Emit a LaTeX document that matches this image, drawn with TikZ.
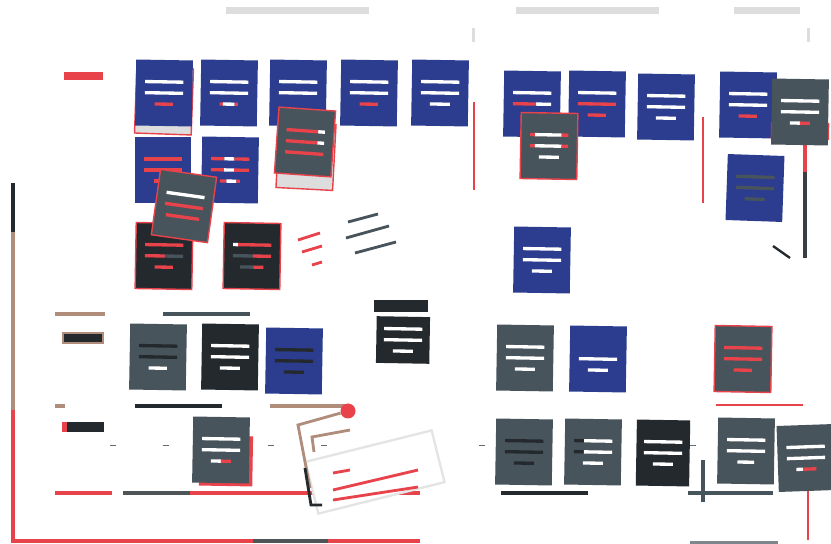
\documentclass[tikz,border=0pt]{standalone}
\usepackage{xcolor}
\usetikzlibrary{calc}
\definecolor{boardBlue}{HTML}{2C3C8E}
\definecolor{slate}{HTML}{48545B}
\definecolor{ink}{HTML}{23292D}
\definecolor{alert}{HTML}{E8424B}
\definecolor{sand}{HTML}{B08C7A}
\definecolor{fog}{HTML}{DDDDDD}
\newcommand{\tbar}[2]{\textcolor{#1}{\rule{#2cm}{0.1cm}}}

\begin{document}
\begin{tikzpicture}[x=0.03cm, y=-0.03cm,
  card/.style={minimum width=1.7cm, minimum height=1.98cm, inner sep=0pt, align=center, font=\fontsize{6}{9.5}\selectfont},
  rule/.style={line width=2.6pt},
  every node/.style={font=\scriptsize}]
  \fill[white] (0,0) rectangle (831,544);
  \useasboundingbox (0,0) rectangle (831,544);
  % header bars
  \fill[fog] (226,7) rectangle (369,14);
  \fill[fog] (516,7) rectangle (659,14);
  \fill[fog] (734,7) rectangle (800,14);
  \fill[fog] (472,28) rectangle (475,42);
  \fill[fog] (807,28) rectangle (810,42);
  % swimlane lines
  \draw[ink!70, line width=0.6pt, dash pattern=on 5pt off 40pt] (110,445) -- (831,445);
  \draw[ink, rule] (13,183) -- (13,232);
  \draw[sand, rule] (13,232) -- (13,410);
  \draw[alert, rule] (13,410) -- (13,541) -- (420,541);
  \draw[ink!80, rule] (253,541) -- (328,541);
  \draw[slate!70, rule] (690,543) -- (778,543);
  \fill[alert] (64,72) rectangle (103,80);
  \draw[alert, line width=2pt] (474,102) -- (474,190);
  \draw[alert, line width=1.6pt] (703,117) -- (703,203);
  \draw[alert, rule] (805,140) -- (805,172);
  \draw[ink!90, rule] (805,172) -- (805,258);
  \draw[ink, line width=2pt] (773,246) -- (790,258);
  % middle lane
  \draw[sand, rule] (55,314) -- (105,314);
  \draw[slate, rule] (163,314) -- (250,314);
  \node[fill=ink, draw=sand, line width=1.5pt, minimum width=1.2cm, minimum height=0.3cm, inner sep=0pt] (tag1) at (83,338) {};
  \draw[sand, rule] (55,406) -- (65,406);
  \draw[ink, rule] (135,406) -- (222,406);
  \draw[sand, rule] (270,406) -- (350,406);
  \node[fill=alert, circle, minimum size=0.45cm, inner sep=0pt] (pin) at (348,411) {};
  \node[fill=ink, minimum width=1.2cm, minimum height=0.28cm, inner sep=0pt] (tag2) at (84,427) {};
  \fill[alert] (62,422) rectangle (67,432);
  \draw[alert, line width=1.6pt] (716,405) -- (803,405);
  % bottom lane
  \draw[alert, rule] (55,493) -- (112,493);
  \draw[ink!80, rule] (123,493) -- (190,493);
  \draw[alert, rule] (190,493) -- (420,493);
  \draw[ink, rule] (501,493) -- (588,493);
  \draw[slate, rule] (688,493) -- (773,493);
  \draw[slate, rule] (703,460) -- (703,502);
  \draw[alert, line width=1.6pt] (808,490) -- (808,540);
  % top row, left board
  \node[card, fill=fog, draw=alert, line width=1.2pt, rotate=-2] (b1s) at (164,101) {};
  \node[card, fill=boardBlue, rotate=-1] (b1) at (164,93) {\tbar{white}{1.15}\\\tbar{white}{1.15}\\\tbar{alert}{0.55}};
  \node[card, fill=boardBlue, rotate=-1] (b2) at (229,93) {\tbar{white}{1.15}\\\tbar{white}{1.15}\\\tbar{alert}{0.1}\tbar{white}{0.35}\tbar{alert}{0.1}};
  \node[card, fill=boardBlue, rotate=-1] (b3) at (298,93) {\tbar{white}{1.15}\\\tbar{white}{1.15}\\\tbar{boardBlue}{0.55}};
  \node[card, fill=boardBlue, rotate=-1] (b4) at (369,93) {\tbar{white}{1.15}\\\tbar{white}{1.15}\\\tbar{alert}{0.55}};
  \node[card, fill=boardBlue, rotate=-1] (b5) at (440,93) {\tbar{white}{1.15}\\\tbar{white}{1.15}\\\tbar{white}{0.6}};
  \node[card, fill=boardBlue] (b6) at (163,170) {\tbar{alert}{1.15}\\\tbar{alert}{1.15}\\\tbar{alert}{0.55}};
  \node[card, fill=boardBlue, rotate=-1] (b7) at (230,170) {\tbar{alert}{0.4}\tbar{white}{0.3}\tbar{alert}{0.45}\\\tbar{alert}{0.4}\tbar{white}{0.3}\tbar{alert}{0.45}\\\tbar{alert}{0.2}\tbar{white}{0.3}\tbar{alert}{0.1}};
  \node[card, fill=fog, draw=alert, line width=1.2pt, rotate=-3] (s1s) at (306,156) {};
  \node[card, fill=slate, draw=alert, line width=1.2pt, rotate=-4] (s1) at (305,142) {\tbar{alert}{0.95}\tbar{white}{0.2}\\\tbar{alert}{0.95}\tbar{white}{0.2}\\\tbar{alert}{1.15}};
  \node[card, fill=ink, draw=alert, line width=1.2pt, rotate=-1] (d1) at (164,256) {\tbar{alert}{1.15}\\\tbar{alert}{0.6}\tbar{slate}{0.55}\\\tbar{alert}{0.55}};
  \node[card, fill=ink, draw=alert, line width=1.2pt, rotate=-1] (d2) at (252,256) {\tbar{white}{0.15}\tbar{alert}{1.0}\\\tbar{slate}{0.6}\tbar{alert}{0.55}\\\tbar{slate}{0.4}\tbar{alert}{0.3}};
  \node[card, fill=slate, draw=alert, line width=1.2pt, rotate=-8] (s2) at (184,206) {\tbar{white}{1.15}\\\tbar{alert}{1.15}\\\tbar{alert}{1.0}};
  % loose strokes
  \draw[alert, line width=2.4pt] (298,240) -- (320,233);
  \draw[alert, line width=2.4pt] (302,252) -- (322,246);
  \draw[alert, line width=2.4pt] (312,265) -- (322,262);
  \draw[slate, line width=2.4pt] (348,222) -- (378,214);
  \draw[slate, line width=2.4pt] (346,238) -- (389,226);
  \draw[slate, line width=2.4pt] (355,253) -- (396,242);
  % top row, right board
  \node[card, fill=boardBlue, rotate=-1] (b8) at (532,104) {\tbar{white}{1.15}\\\tbar{alert}{0.7}\tbar{white}{0.45}\\\tbar{boardBlue}{0.55}};
  \node[card, fill=boardBlue, rotate=-1] (b9) at (597,104) {\tbar{white}{1.15}\\\tbar{alert}{1.15}\\\tbar{alert}{0.55}};
  \node[card, fill=boardBlue, rotate=-1] (b10) at (666,107) {\tbar{white}{1.15}\\\tbar{white}{1.15}\\\tbar{white}{0.6}};
  \node[card, fill=boardBlue, rotate=-1] (b11) at (748,105) {\tbar{white}{1.15}\\\tbar{white}{1.15}\\\tbar{alert}{0.55}};
  \node[card, fill=slate, draw=alert, line width=1.2pt, rotate=-1] (s3) at (549,146) {\tbar{alert}{0.15}\tbar{white}{0.8}\tbar{alert}{0.2}\\\tbar{alert}{0.15}\tbar{white}{0.8}\tbar{alert}{0.2}\\\tbar{white}{0.6}};
  \node[card, fill=alert, minimum height=0.5cm, minimum width=1.75cm, rotate=-1] (s4s) at (800,131) {};
  \node[card, fill=slate, rotate=-1] (s4) at (800,112) {\tbar{white}{1.15}\\\tbar{white}{1.15}\\\tbar{white}{0.3}\tbar{alert}{0.3}};
  \node[card, fill=boardBlue, rotate=-2] (b12) at (755,188) {\tbar{slate}{1.15}\\\tbar{slate}{1.15}\\\tbar{slate}{0.6}};
  \node[card, fill=boardBlue, rotate=-1] (b13) at (542,260) {\tbar{white}{1.15}\\\tbar{white}{1.15}\\\tbar{white}{0.6}};
  % middle lane cards
  \node[card, fill=slate, rotate=-1] (s5) at (158,357) {\tbar{ink}{1.15}\\\tbar{ink}{1.15}\\\tbar{white}{0.55}};
  \node[card, fill=ink, rotate=-1] (d3) at (230,357) {\tbar{white}{1.15}\\\tbar{white}{1.15}\\\tbar{white}{0.6}};
  \node[card, fill=boardBlue, rotate=-1] (b14) at (294,361) {\tbar{ink}{1.15}\\\tbar{ink}{1.15}\\\tbar{ink}{0.6}};
  \node[fill=ink, minimum width=1.6cm, minimum height=0.38cm, inner sep=0pt] (d4h) at (401,306) {};
  \node[card, fill=ink, minimum width=1.6cm, minimum height=1.4cm, rotate=-1] (d4) at (403,340) {\tbar{white}{1.15}\\\tbar{white}{1.15}\\\tbar{white}{0.6}};
  \node[card, fill=slate, rotate=-1] (s6) at (525,358) {\tbar{white}{1.15}\\\tbar{white}{1.15}\\\tbar{white}{0.6}};
  \node[card, fill=boardBlue, rotate=-1] (b15) at (598,359) {\tbar{boardBlue}{1.15}\\\tbar{white}{1.15}\\\tbar{white}{0.6}};
  \node[card, fill=slate, draw=alert, line width=1.2pt, rotate=-1] (s7) at (743,359) {\tbar{alert}{1.15}\\\tbar{alert}{1.15}\\\tbar{alert}{0.55}};
  % bottom lane cards
  \node[card, fill=alert, minimum width=1.6cm, minimum height=1.5cm, rotate=-1] (s8s) at (226,461) {};
  \node[card, fill=slate, rotate=-1] (s8) at (221,450) {\tbar{white}{1.15}\\\tbar{white}{1.15}\\\tbar{white}{0.3}\tbar{alert}{0.3}};
  \node[card, fill=white, draw=fog!80, line width=2pt, minimum width=3.9cm, minimum height=1.6cm, rotate=14] (sheet) at (375,472) {};
  \draw[sand, line width=2.4pt] (pin) -- (298,425) -- (310,488);
  \draw[sand, line width=2.4pt] (314,452) -- (312,437) -- (350,430);
  \draw[ink, line width=2.4pt] (305,468) -- (311,505) -- (322,505);
  \draw[alert, line width=2.4pt] (333,490) -- (418,470);
  \draw[alert, line width=2.4pt] (333,500) -- (418,487);
  \draw[alert, line width=2.4pt] (333,473) -- (350,470);
  \node[card, fill=slate, rotate=-1] (s9) at (524,452) {\tbar{ink}{1.15}\\\tbar{ink}{1.15}\\\tbar{ink}{0.6}};
  \node[card, fill=slate, rotate=-1] (s10) at (593,452) {\tbar{ink}{0.3}\tbar{white}{0.85}\\\tbar{ink}{0.3}\tbar{white}{0.85}\\\tbar{white}{0.6}};
  \node[card, fill=ink, minimum width=1.6cm, rotate=-1] (d5) at (663,453) {\tbar{white}{1.15}\\\tbar{white}{1.15}\\\tbar{white}{0.6}};
  \node[card, fill=slate, rotate=-1] (s11) at (746,451) {\tbar{white}{1.15}\\\tbar{white}{1.15}\\\tbar{white}{0.5}};
  \node[card, fill=slate, rotate=2] (s12) at (806,458) {\tbar{white}{1.15}\\\tbar{white}{1.15}\\\tbar{white}{0.2}\tbar{alert}{0.4}};
\end{tikzpicture}
\end{document}
